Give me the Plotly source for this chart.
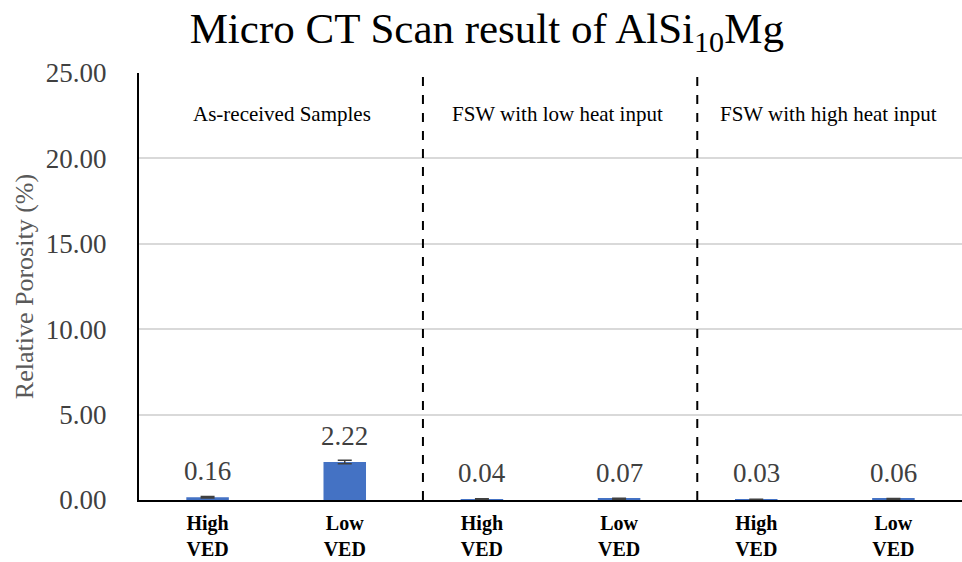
import plotly.graph_objects as go

# Relative porosity (%) from micro-CT, per sample condition
categories = ["High<br>VED", "Low<br>VED", "High<br>VED", "Low<br>VED", "High<br>VED", "Low<br>VED"]
porosity = [0.16, 2.22, 0.04, 0.07, 0.03, 0.06]
porosity_err = [0.04, 0.10, 0.03, 0.03, 0.02, 0.03]
group_labels = ["As-received Samples", "FSW with low heat input", "FSW with high heat input"]
y_ticks = [0, 5, 10, 15, 20, 25]

x_pos = list(range(len(categories)))
serif = "Times New Roman, Liberation Serif, serif"

fig = go.Figure()
fig.add_trace(go.Bar(
    x=x_pos,
    y=porosity,
    width=0.31,
    marker=dict(color="#4472C4", line=dict(width=0)),
    error_y=dict(type="data", array=porosity_err, visible=True,
                 color="#404040", thickness=1.5, width=7),
    hoverinfo="y",
))

# value labels above each bar
for xi, v in zip(x_pos, porosity):
    fig.add_annotation(x=xi, y=v, text=f"{v:.2f}", showarrow=False,
                       yanchor="bottom", yshift=9,
                       font=dict(family=serif, size=27, color="#404040"))

# dashed separators between sample groups
for xs in [1.57, 3.57]:
    fig.add_shape(type="line", xref="x", yref="paper", x0=xs, x1=xs, y0=0, y1=1,
                  line=dict(color="black", width=2, dash="dash"))

# group headings
for gx, label in zip([0.54, 2.55, 4.53], group_labels):
    fig.add_annotation(x=gx, xref="x", y=0.903, yref="paper", text=label,
                       showarrow=False, yanchor="middle",
                       font=dict(family=serif, size=21, color="black"))

fig.update_layout(
    width=962, height=562,
    margin=dict(l=139, r=0, t=73, b=62),
    plot_bgcolor="white", paper_bgcolor="white",
    showlegend=False,
    title=dict(text="Micro CT Scan result of AlSi<sub>10</sub>Mg",
               x=0.506, xanchor="center", y=0.95, yanchor="middle",
               font=dict(family=serif, size=43, color="black")),
    xaxis=dict(
        range=[-0.5, 5.5], tickvals=x_pos, ticktext=categories,
        showgrid=False, zeroline=False,
        showline=True, linecolor="black", linewidth=2,
        ticks="", ticklabelstandoff=4,
        tickfont=dict(family=serif, size=20, color="black", weight="bold"),
    ),
    yaxis=dict(
        range=[0, 25], tickvals=y_ticks, tickformat=".2f",
        showgrid=True, gridcolor="#d9d9d9", gridwidth=1.5,
        zeroline=False, showline=True, linecolor="black", linewidth=2,
        ticks="", ticklabelstandoff=25,
        tickfont=dict(family=serif, size=27, color="#404040"),
        title=dict(text="Relative Porosity (%)", standoff=5,
                   font=dict(family=serif, size=26, color="#595959")),
    ),
)

fig.write_html("out.html")
